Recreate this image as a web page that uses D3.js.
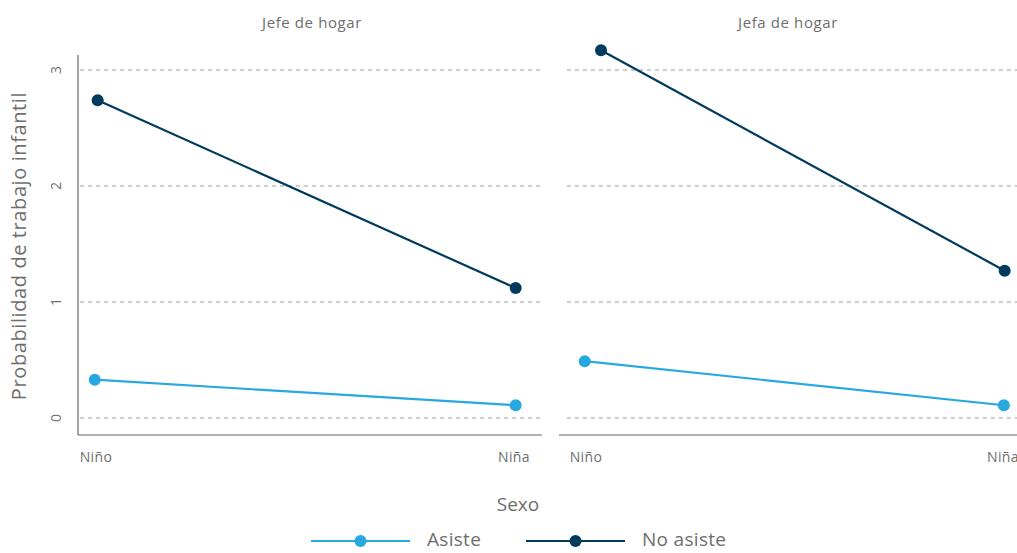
<!DOCTYPE html>
<html>
<head>
<meta charset="UTF-8">
<title>Probabilidad de trabajo infantil</title>
<script src="https://d3js.org/d3.v7.min.js"></script>
<style>
  body { margin: 0; background: #fff; }
  text { font-family: "Open Sans", Roboto, "DejaVu Sans", sans-serif; fill: #6e6e6e; }
</style>
</head>
<body>
<svg width="1017" height="553"></svg>
<script>
// data
var panels = ["Jefe de hogar", "Jefa de hogar"];
var sexos = ["Niño", "Niña"];
var series = ["Asiste", "No asiste"];
var yTicks = [0, 1, 2, 3];
// values per panel, per series: [Niño, Niña]
var asiste = [[0.33, 0.11], [0.49, 0.11]];
var noAsiste = [[2.74, 1.12], [3.17, 1.27]];
// small horizontal jitter of the points, in category units
var jitterAsiste = [[-0.003, 0.004], [-0.003, 0.002]];
var jitterNoAsiste = [[0.004, 0.004], [0.036, 0.004]];

var colors = { "Asiste": "#27a8e0", "No asiste": "#003a5c" };

var svg = d3.select("svg");

var y = d3.scaleLinear().domain([0, 3]).range([418, 70]);

// panel geometry
var frames = [
  { axis: [78, 542], grid: [80, 542], cats: [96, 514], title: 312 },
  { axis: [559, 1017], grid: [567, 1017], cats: [586, 1003], title: 788 }
];

panels.forEach(function(p, pi){
  var f = frames[pi];
  var x = d3.scaleLinear().domain([0, 1]).range(f.cats);
  var g = svg.append("g");

  // title
  g.append("text")
    .attr("x", f.title).attr("y", 28)
    .attr("text-anchor", "middle")
    .attr("font-size", 15)
    .attr("letter-spacing", 0.6)
    .text(p);

  // gridlines
  g.selectAll(".grid").data(yTicks).enter().append("line")
    .attr("x1", f.grid[0]).attr("x2", f.grid[1])
    .attr("y1", function(d){ return y(d); })
    .attr("y2", function(d){ return y(d); })
    .attr("stroke", "#9a9a9a")
    .attr("stroke-width", 1)
    .attr("stroke-dasharray", "4,4");

  // bottom axis line
  g.append("line")
    .attr("x1", f.axis[0]).attr("x2", f.axis[1])
    .attr("y1", 435).attr("y2", 435)
    .attr("stroke", "#666").attr("stroke-width", 1.2);

  // x labels
  g.selectAll(".xl").data(sexos).enter().append("text")
    .attr("x", function(d, i){ return x(i); })
    .attr("y", 462)
    .attr("text-anchor", "middle")
    .attr("font-size", 14)
    .attr("letter-spacing", 0.4)
    .text(function(d){ return d; });

  var seriesData = [
    { name: "Asiste", vals: asiste[pi], jit: jitterAsiste[pi] },
    { name: "No asiste", vals: noAsiste[pi], jit: jitterNoAsiste[pi] }
  ];

  var line = d3.line()
    .x(function(d){ return x(d.i + d.j); })
    .y(function(d){ return y(d.v); });

  seriesData.forEach(function(s){
    var pts = s.vals.map(function(v, i){ return { i: i, v: v, j: s.jit[i] }; });
    g.append("path")
      .datum(pts)
      .attr("d", line)
      .attr("fill", "none")
      .attr("stroke", colors[s.name])
      .attr("stroke-width", 2.2);
    g.selectAll(null).data(pts).enter().append("circle")
      .attr("cx", function(d){ return x(d.i + d.j); })
      .attr("cy", function(d){ return y(d.v); })
      .attr("r", 6)
      .attr("fill", colors[s.name]);
  });
});

// left y axis
svg.append("line")
  .attr("x1", 78).attr("x2", 78)
  .attr("y1", 55).attr("y2", 435)
  .attr("stroke", "#666").attr("stroke-width", 1.2);

svg.selectAll(".yl").data(yTicks).enter().append("text")
  .attr("transform", function(d){ return "translate(61," + y(d) + ") rotate(-90)"; })
  .attr("text-anchor", "middle")
  .attr("font-size", 14)
  .text(function(d){ return d; });

svg.append("text")
  .attr("transform", "translate(26,246) rotate(-90)")
  .attr("text-anchor", "middle")
  .attr("font-size", 20)
  .attr("letter-spacing", 0.6)
  .text("Probabilidad de trabajo infantil");

svg.append("text")
  .attr("x", 518).attr("y", 511)
  .attr("text-anchor", "middle")
  .attr("font-size", 19)
  .text("Sexo");

// legend
var legend = svg.selectAll(".lg").data(series).enter().append("g")
  .attr("transform", function(d, i){ return "translate(" + (311 + i * 215) + ",541)"; });
legend.append("line")
  .attr("x1", 0).attr("x2", 99)
  .attr("stroke", function(d){ return colors[d]; })
  .attr("stroke-width", 2.2);
legend.append("circle")
  .attr("cx", 49.5).attr("r", 6)
  .attr("fill", function(d){ return colors[d]; });
legend.append("text")
  .attr("x", 116).attr("y", 5)
  .attr("font-size", 19)
  .attr("letter-spacing", 0.3)
  .text(function(d){ return d; });
</script>
</body>
</html>
